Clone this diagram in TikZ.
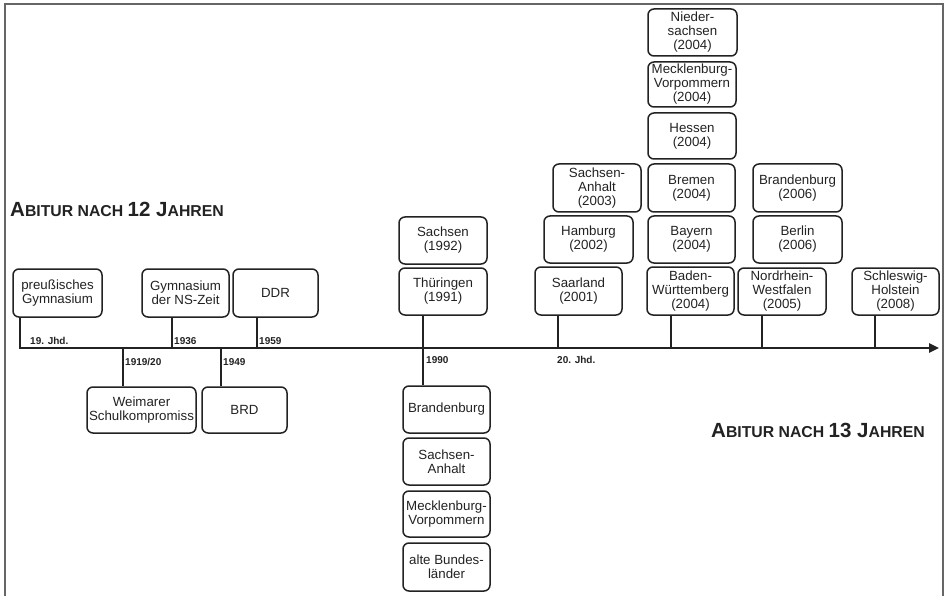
\documentclass[tikz,border=0pt]{standalone}
\usepackage{fontspec}
\setmainfont{Liberation Sans}
\usetikzlibrary{arrows.meta}
\definecolor{ink}{HTML}{222222}
\definecolor{frame}{HTML}{666666}
\newcommand{\TiBig}[1]{{\fontsize{20.5}{20}\selectfont #1}}
\newcommand{\TiSm}[1]{{\fontsize{15.8}{16}\selectfont #1}}
\begin{document}
\begin{tikzpicture}[x=1pt,y=-1pt,
  box/.style={draw=ink, line width=1.5pt, rounded corners=6pt, align=center, inner sep=0pt,
    font=\fontsize{13.3}{14}\selectfont, text=ink, minimum width=88pt, minimum height=47pt},
  conn/.style={draw=ink, line width=1.5pt},
  axisline/.style={draw=ink, line width=2.4pt, -{Triangle[length=10pt,width=9pt]}},
  yearlbl/.style={font=\fontsize{10}{10}\selectfont\bfseries, text=ink, inner sep=0pt, anchor=west},
  titlelbl/.style={font=\bfseries, text=ink, inner sep=0pt, anchor=base west}
]
\useasboundingbox (0,0) rectangle (945,596);
\draw[frame, line width=1.6pt] (5,596) -- (5,4) -- (943,4) -- (943,596);

% titles
\node[titlelbl] (t12) at (10,217) {\TiBig{A}\TiSm{BITUR NACH }\TiBig{12 J}\TiSm{AHREN}};
\node[titlelbl] (t13) at (711,437) {\TiBig{A}\TiSm{BITUR NACH }\TiBig{13 J}\TiSm{AHREN}};

% boxes above/below, left part
\node[box, minimum width=89pt, minimum height=48pt] (preuss) at (57.5,293) {preußisches\\Gymnasium};
\node[box, minimum width=87pt, minimum height=48pt] (ns) at (185.5,293) {Gymnasium\\der NS-Zeit};
\node[box, minimum width=85pt, minimum height=48pt] (ddr) at (275.5,293) {DDR};
\node[box, minimum width=109pt, minimum height=46pt] (weimar) at (141.5,410) {Weimarer\\Schulkompromiss};
\node[box, minimum width=85pt, minimum height=46pt] (brd) at (244.5,410) {BRD};

% 1990 column
\node[box] (sachsen) at (443,240.5) {Sachsen\\(1992)};
\node[box] (thur) at (443,291.5) {Thüringen\\(1991)};
\node[box, minimum width=87pt] (brandB) at (446.5,409.5) {Brandenburg};
\node[box, minimum width=87pt] (saB) at (446.5,461.5) {Sachsen-\\Anhalt};
\node[box, minimum width=87pt, minimum height=46pt] (mvB) at (446.5,514) {Mecklenburg-\\Vorpommern};
\node[box, minimum width=87pt, minimum height=48pt] (alte) at (446.5,567) {alte Bundes-\\länder};

% 2001-2003 column
\node[box, minimum width=87pt, minimum height=48pt] (saar) at (578.5,291) {Saarland\\(2001)};
\node[box, minimum width=89pt] (hamb) at (588.5,239.5) {Hamburg\\(2002)};
\node[box, minimum height=48pt] (sa03) at (597,188) {Sachsen-\\Anhalt\\(2003)};

% 2004 column
\node[box, minimum width=87pt, minimum height=48pt] (bw) at (690.5,291) {Baden-\\Württemberg\\(2004)};
\node[box, minimum width=87pt] (bay) at (691.5,239.5) {Bayern\\(2004)};
\node[box, minimum width=87pt, minimum height=48pt] (brem) at (691.5,188) {Bremen\\(2004)};
\node[box, minimum height=46pt] (hess) at (692,136) {Hessen\\(2004)};
\node[box, minimum height=45pt] (mv04) at (692,84.5) {Mecklenburg-\\Vorpommern\\(2004)};
\node[box, minimum width=89pt] (nieder) at (692.5,32.5) {Nieder-\\sachsen\\(2004)};

% 2005-2008
\node[box] (nrw) at (782,291.5) {Nordrhein-\\Westfalen\\(2005)};
\node[box, minimum width=89pt] (berlin) at (797.5,239.5) {Berlin\\(2006)};
\node[box, minimum width=89pt, minimum height=48pt] (brand06) at (797.5,188) {Brandenburg\\(2006)};
\node[box, minimum width=87pt] (sh) at (895.5,291.5) {Schleswig-\\Holstein\\(2008)};

% axis and ticks
\coordinate (a0) at (20,348);
\coordinate (a1) at (939,348);
\coordinate (k1919) at (123,348);
\coordinate (k1936) at (172,348);
\coordinate (k1949) at (221,348);
\coordinate (k1959) at (257,348);
\coordinate (k1990) at (423,348);
\coordinate (k2001) at (558,348);
\coordinate (k2004) at (671,348);
\coordinate (k2005) at (762,348);
\coordinate (k2008) at (875,348);

\draw[conn] (k1936) -- (k1936 |- ns.south);
\draw[conn] (k1959) -- (k1959 |- ddr.south);
\draw[conn] (k1919) -- (k1919 |- weimar.north);
\draw[conn] (k1949) -- (k1949 |- brd.north);
\draw[conn] (k1990 |- thur.south) -- (k1990 |- brandB.north);
\draw[conn] (k2001) -- (k2001 |- saar.south);
\draw[conn] (k2004) -- (k2004 |- bw.south);
\draw[conn] (k2005) -- (k2005 |- nrw.south);
\draw[conn] (k2008) -- (k2008 |- sh.south);
\draw[axisline] (a0 |- preuss.south) -- (a0) -- (a1);

% year labels
\node[yearlbl] (l19) at (30,341) {19. Jhd.};
\node[yearlbl] (l1936) at (174,341) {1936};
\node[yearlbl] (l1959) at (259,341) {1959};
\node[yearlbl] (l1919) at (125,362) {1919/20};
\node[yearlbl] (l1949) at (223,362) {1949};
\node[yearlbl] (l1990) at (426,360) {1990};
\node[yearlbl] (l20) at (557,360) {20. Jhd.};
\end{tikzpicture}
\end{document}
